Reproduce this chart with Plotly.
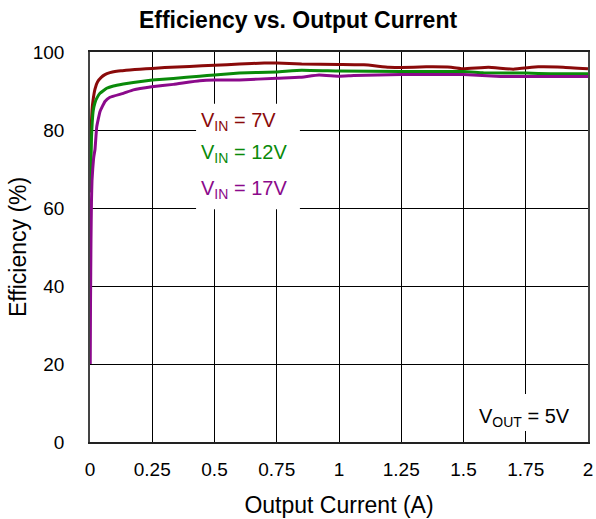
import plotly.graph_objects as go

# Output current (A) and efficiency (%) for each input voltage
current_7v = [0.0015, 0.003, 0.005, 0.008, 0.012, 0.02, 0.03, 0.045, 0.06, 0.08, 0.1, 0.13, 0.16,
              0.2, 0.25, 0.3, 0.4, 0.5, 0.6, 0.7, 0.75, 0.85, 1.0, 1.1, 1.2, 1.25, 1.35, 1.45,
              1.5, 1.6, 1.7, 1.8, 1.9, 2.0]
eff_7v = [72, 77, 81, 85, 87.5, 90.5, 92.3, 93.5, 94.2, 94.7, 95.0, 95.2, 95.4,
          95.6, 95.8, 96.0, 96.3, 96.6, 96.9, 97.2, 97.2, 96.9, 96.8, 96.7, 96.1, 96.0, 96.2, 96.1,
          95.7, 96.1, 95.6, 96.2, 96.1, 95.7]

current_12v = [0.002, 0.004, 0.006, 0.009, 0.013, 0.02, 0.027, 0.04, 0.067, 0.094, 0.134, 0.174,
               0.25, 0.335, 0.44, 0.5, 0.6, 0.75, 0.85, 1.0, 1.25, 1.5, 1.58, 1.75, 1.85, 2.0]
eff_12v = [64, 72, 78, 82, 85, 87, 88.1, 89.4, 90.7, 91.3, 91.8, 92.2,
           92.8, 93.2, 93.8, 94.1, 94.6, 94.9, 95.3, 95.1, 95.0, 95.0, 94.7, 94.6, 94.4, 94.4]

current_17v = [0.001, 0.002, 0.004, 0.006, 0.008, 0.011, 0.015, 0.02, 0.027, 0.04, 0.06, 0.08,
               0.134, 0.174, 0.248, 0.335, 0.44, 0.5, 0.6, 0.75, 0.84, 0.92, 1.0, 1.06, 1.25,
               1.5, 1.65, 2.0]
eff_17v = [20, 35, 52, 62, 67, 70, 73, 75, 80.8, 84.7, 87.3, 88.4,
           89.4, 90.3, 91.1, 91.7, 92.6, 92.8, 92.8, 93.3, 93.5, 94.1, 93.8, 94.0, 94.2,
           94.2, 93.7, 93.7]

x_ticks = [0, 0.25, 0.5, 0.75, 1, 1.25, 1.5, 1.75, 2]
x_tick_text = ["0", "0.25", "0.5", "0.75", "1", "1.25", "1.5", "1.75", "2"]
y_ticks = [0, 20, 40, 60, 80, 100]

RED = "#8a0a0a"
GREEN = "#0a8a0a"
PURPLE = "#8b0a8b"
FONT = "Liberation Sans, Arial, sans-serif"

fig = go.Figure()
for xs, ys, col in [(current_7v, eff_7v, RED),
                    (current_12v, eff_12v, GREEN),
                    (current_17v, eff_17v, PURPLE)]:
    fig.add_trace(go.Scatter(x=xs, y=ys, mode="lines",
                             line=dict(color=col, width=3, shape="spline", smoothing=0.3),
                             showlegend=False, hoverinfo="skip"))

# White panels behind the in-plot labels
fig.add_shape(type="rect", xref="x", yref="y", x0=0.426, x1=0.843, y0=59.7, y1=86.7,
              fillcolor="white", line=dict(width=0), layer="above")
fig.add_shape(type="rect", xref="x", yref="y", x0=1.52, x1=1.985, y0=2.8, y1=12.3,
              fillcolor="white", line=dict(width=0), layer="above")

for txt, yv, col in [("V<sub>IN</sub> = 7V", 82.2, RED),
                     ("V<sub>IN</sub> = 12V", 74.0, GREEN),
                     ("V<sub>IN</sub> = 17V", 64.7, PURPLE)]:
    fig.add_annotation(x=0.436, y=yv, xref="x", yref="y", text=txt, showarrow=False,
                       xanchor="left", yanchor="middle", font=dict(size=20, color=col, family=FONT))

fig.add_annotation(x=1.743, y=6.4, xref="x", yref="y", text="V<sub>OUT</sub> = 5V", showarrow=False,
                   xanchor="center", yanchor="middle", font=dict(size=20, color="black", family=FONT))

# Vertical axis title, placed left of the tick labels
fig.add_annotation(x=-0.1446, y=0.5, xref="paper", yref="paper", text="Efficiency (%)",
                   textangle=-90, showarrow=False, xanchor="center", yanchor="middle",
                   font=dict(size=23, color="black", family=FONT))

fig.update_layout(
    template="none",
    width=596, height=519,
    margin=dict(l=90, r=8, t=52, b=77, autoexpand=False),
    paper_bgcolor="white", plot_bgcolor="white",
    font=dict(family=FONT, color="black"),
    title=dict(text="<b>Efficiency vs. Output Current</b>", x=0.5, xanchor="center",
               y=1 - 20 / 519, yanchor="middle", font=dict(size=23, color="black", family=FONT)),
)
fig.update_xaxes(range=[0, 2], tickvals=x_ticks, ticktext=x_tick_text, automargin=False,
                 showgrid=True, gridcolor="black", gridwidth=1,
                 showline=True, linecolor="#222", linewidth=1.5, mirror=True,
                 zeroline=False, ticks="", ticklabelstandoff=9,
                 tickfont=dict(size=19, color="black"),
                 title=dict(text="Output Current (A)", font=dict(size=23, color="black"), standoff=18))
fig.update_yaxes(range=[0, 100], tickvals=y_ticks, automargin=False,
                 showgrid=True, gridcolor="black", gridwidth=1,
                 showline=True, linecolor="#444", linewidth=1.5, mirror=True,
                 zeroline=False, ticks="", ticklabelstandoff=20,
                 tickfont=dict(size=19, color="black"))

fig.write_html("out.html")
